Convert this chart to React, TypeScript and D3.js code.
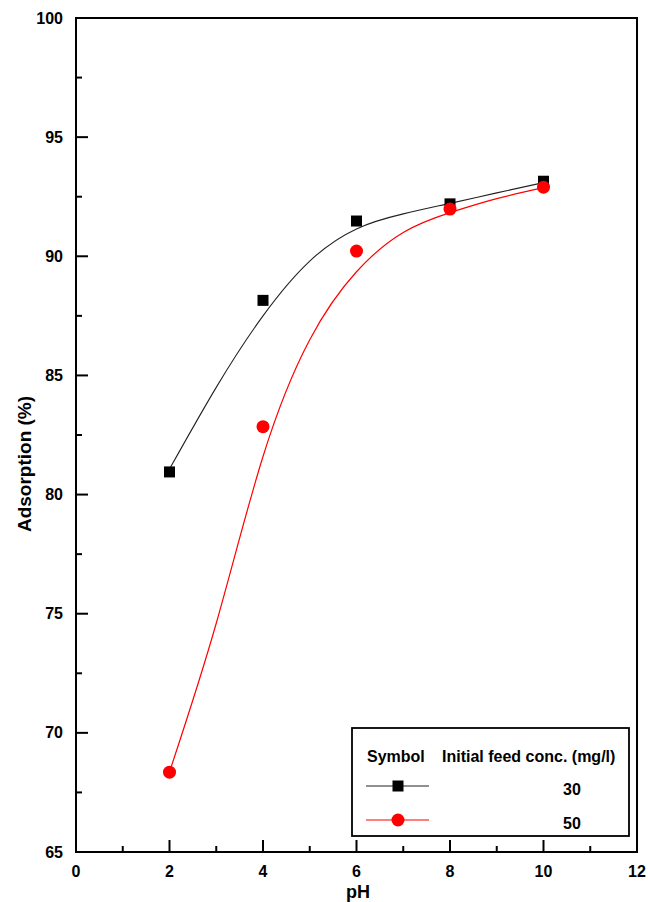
import React from "react";
import * as d3 from "d3";

// Measured adsorption at each pH
const phValues = [2, 4, 6, 8, 10];
const adsorption30 = [80.95, 88.15, 91.48, 92.2, 93.15];
const adsorption50 = [68.35, 82.85, 90.22, 91.98, 92.9];

// Fitted curves (pH, adsorption %)
const fitPh30 = [2, 3, 4, 5, 6, 7, 8, 9, 10];
const fit30 = [81.07, 84.5, 87.5, 89.8, 91.15, 91.78, 92.22, 92.66, 93.09];
const fitPh50 = [2, 3, 4, 5, 6, 7, 8, 9, 10];
const fit50 = [68.36, 74.6, 81.6, 86.5, 89.35, 91.0, 91.83, 92.42, 92.88];

const xMajorTicks = [0, 2, 4, 6, 8, 10, 12];
const xMinorTicks = [1, 3, 5, 7, 9, 11];
const yMajorTicks = [65, 70, 75, 80, 85, 90, 95, 100];
const yMinorTicks = [67.5, 72.5, 77.5, 82.5, 87.5, 92.5, 97.5];

const legendLabels = ["30", "50"];

const W = 648;
const H = 902;
const FONT = "Arial, 'Liberation Sans', Helvetica, sans-serif";

export default function App() {
  const x = d3.scaleLinear().domain([0, 12]).range([76, 637]);
  const y = d3.scaleLinear().domain([65, 100]).range([852, 18]);

  const line = d3
    .line<[number, number]>()
    .x((d) => x(d[0]))
    .y((d) => y(d[1]))
    .curve(d3.curveNatural);

  const path30 = line(fitPh30.map((p, i) => [p, fit30[i]] as [number, number])) || "";
  const path50 = line(fitPh50.map((p, i) => [p, fit50[i]] as [number, number])) || "";

  const sq = 11;
  const r = 6.5;

  // legend layout
  const lg = { x0: 352, y0: 728, x1: 629, y1: 836 };
  const rowY = [786, 820];
  const symX = [366, 429];
  const symCx = 398;

  return (
    <svg
      width={W}
      height={H}
      style={{ position: "absolute", left: 0, top: 0, background: "#fff" }}
      fontFamily={FONT}
    >
      <rect x={0} y={0} width={W} height={H} fill="#fff" />

      {/* fitted curves */}
      <path d={path30} fill="none" stroke="#222" strokeWidth={1.1} />
      <path d={path50} fill="none" stroke="#ff0000" strokeWidth={1.2} />

      {/* data markers */}
      {phValues.map((p, i) => (
        <rect
          key={"s" + i}
          x={x(p) - sq / 2}
          y={y(adsorption30[i]) - sq / 2}
          width={sq}
          height={sq}
          fill="#000"
        />
      ))}
      {phValues.map((p, i) => (
        <circle key={"c" + i} cx={x(p)} cy={y(adsorption50[i])} r={r} fill="#ff0000" />
      ))}

      {/* frame */}
      <rect
        x={x(0)}
        y={y(100)}
        width={x(12) - x(0)}
        height={y(65) - y(100)}
        fill="none"
        stroke="#000"
        strokeWidth={2}
      />

      {/* x ticks */}
      {xMajorTicks.map((t) => (
        <g key={"xm" + t}>
          <line x1={x(t)} x2={x(t)} y1={y(65)} y2={y(65) - 12} stroke="#000" strokeWidth={2} />
          <text x={x(t)} y={877} textAnchor="middle" fontSize={16} fontWeight="bold" fill="#000">
            {t}
          </text>
        </g>
      ))}
      {xMinorTicks.map((t) => (
        <line key={"xn" + t} x1={x(t)} x2={x(t)} y1={y(65)} y2={y(65) - 6} stroke="#000" strokeWidth={2} />
      ))}

      {/* y ticks */}
      {yMajorTicks.map((t) => (
        <g key={"ym" + t}>
          <line x1={x(0)} x2={x(0) + 12} y1={y(t)} y2={y(t)} stroke="#000" strokeWidth={2} />
          <text x={63} y={y(t) + 5.5} textAnchor="end" fontSize={16} fontWeight="bold" fill="#000">
            {t}
          </text>
        </g>
      ))}
      {yMinorTicks.map((t) => (
        <line key={"yn" + t} x1={x(0)} x2={x(0) + 6} y1={y(t)} y2={y(t)} stroke="#000" strokeWidth={2} />
      ))}

      {/* axis titles */}
      <text x={358} y={898} textAnchor="middle" fontSize={18} fontWeight="bold" fill="#000">
        pH
      </text>
      <text
        transform={`translate(31, 464) rotate(-90)`}
        textAnchor="middle"
        fontSize={19}
        fontWeight="bold"
        fill="#000"
      >
        Adsorption (%)
      </text>

      {/* legend */}
      <rect
        x={lg.x0}
        y={lg.y0}
        width={lg.x1 - lg.x0}
        height={lg.y1 - lg.y0}
        fill="#fff"
        stroke="#000"
        strokeWidth={1.8}
      />
      <text x={367} y={762} fontSize={16} fontWeight="bold" fill="#000">
        Symbol
      </text>
      <text x={442} y={762} fontSize={16} fontWeight="bold" fill="#000">
        Initial feed conc. (mg/l)
      </text>
      <line x1={symX[0]} x2={symX[1]} y1={rowY[0]} y2={rowY[0]} stroke="#222" strokeWidth={1.1} />
      <rect x={symCx - sq / 2} y={rowY[0] - sq / 2} width={sq} height={sq} fill="#000" />
      <line x1={symX[0]} x2={symX[1]} y1={rowY[1]} y2={rowY[1]} stroke="#ff0000" strokeWidth={1.2} />
      <circle cx={symCx} cy={rowY[1]} r={r} fill="#ff0000" />
      {legendLabels.map((l, i) => (
        <text
          key={l}
          x={572}
          y={rowY[i] + 9}
          textAnchor="middle"
          fontSize={16}
          fontWeight="bold"
          fill="#000"
        >
          {l}
        </text>
      ))}
    </svg>
  );
}
